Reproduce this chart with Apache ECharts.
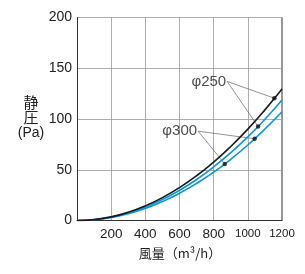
<!DOCTYPE html>
<html><head><meta charset="utf-8">
<script src="https://cdn.jsdelivr.net/npm/echarts@6/dist/echarts.min.js"></script>
<style>html,body{margin:0;padding:0;background:#fff}#c{width:305px;height:274px}</style>
</head><body><div id="c"></div>
<script>
var flows = [0,100,200,300,400,500,600,700,800,900,1000,1100,1200];
var blackCurve = [0,0.9,3.6,8.1,14.4,22.5,32.4,44.1,57.6,72.9,90.0,109.0,129.5];
var blueCurve1 = [0,0.8,3.3,7.4,13.2,20.6,29.7,40.4,52.8,66.8,82.4,99.7,118.7];
var blueCurve2 = [0,0.7,3.0,6.7,11.9,18.6,26.8,36.5,47.6,60.3,74.4,90.1,107.2];
var dotsX = [1155,1060,1040,865];
var dotsY = [120.5,92.5,80.5,55.7];
var label250 = 'φ250', label300 = 'φ300';
var label250Pos = [879,137];
var label250Ends = [[1155,120.5],[1060,92.5]];
var label300Pos = [709,88];
var label300Ends = [[1040,80.5],[865,55.7]];
var xTicks = [0,200,400,600,800,1000,1200];
var yTicks = [0,50,100,150,200];

function pairs(xs, ys){ return xs.map(function(x,i){return [x, ys[i]];}); }
var font = 'Liberation Sans, Arial, sans-serif';
var chart = echarts.init(document.getElementById('c'));
function leader(start, end){
  return {type:'line', data:[start, end], symbol:'none', silent:true,
    lineStyle:{color:'#666', width:0.7}, z:1};
}
chart.setOption({
  animation:false,
  grid:{left:77, top:17.5, width:205, height:203, show:false},
  xAxis:{type:'value', min:0, max:1200, interval:200,
    axisLine:{show:true, onZero:false, lineStyle:{color:'#333', width:1}},
    axisTick:{show:false},
    splitLine:{show:true, lineStyle:{color:'#999', width:0.8}},
    axisLabel:{color:'#222', fontFamily:font, fontSize:13.5, margin:7,
      formatter:function(v){ if(v===0) return ''; return v>=1000 ? '{s|'+v+'}' : ''+v; },
      rich:{s:{fontSize:11.5, fontFamily:font, color:'#222'}}}
  },
  yAxis:{type:'value', min:0, max:200, interval:50,
    axisLine:{show:true, lineStyle:{color:'#333', width:1}},
    axisTick:{show:false},
    splitLine:{show:true, lineStyle:{color:'#999', width:0.8}},
    axisLabel:{color:'#222', fontFamily:font, fontSize:14, margin:5}
  },
  graphic:[
    {type:'line', shape:{x1:282, y1:17.5, x2:282, y2:220.5}, style:{stroke:'#333', lineWidth:1}},
    {type:'text', style:{text:'静', font:'15px "Noto Sans CJK JP"', fill:'#222', textAlign:'center'}, position:[31,95]},
    {type:'text', style:{text:'圧', font:'15px "Noto Sans CJK JP"', fill:'#222', textAlign:'center'}, position:[31,110]},
    {type:'text', style:{text:'(Pa)', font:'14px Liberation Sans, Arial', fill:'#222', textAlign:'center'}, position:[31,126]},
    {type:'text', style:{text:'風量（m³/h）', font:'13px "Noto Sans CJK JP"', fill:'#222', textAlign:'center'}, position:[180,247]}
  ],
  series:[
    leader(label250Pos, label250Ends[0]),
    leader(label250Pos, label250Ends[1]),
    leader(label300Pos, label300Ends[0]),
    leader(label300Pos, label300Ends[1]),
    {type:'line', data:pairs(flows, blueCurve2), smooth:true, symbol:'none', lineStyle:{color:'#0a96dc', width:1.6}, z:3},
    {type:'line', data:pairs(flows, blueCurve1), smooth:true, symbol:'none', lineStyle:{color:'#0a96dc', width:1.6}, z:3},
    {type:'line', data:pairs(flows, blackCurve), smooth:true, symbol:'none', lineStyle:{color:'#1a1a1a', width:1.6}, z:4},
    {type:'scatter', data:pairs(dotsX, dotsY), symbolSize:4.5, itemStyle:{color:'#111'}, z:5},
    {type:'scatter', data:[label250Pos, label300Pos], symbolSize:0, z:6,
      label:{show:true, position:'left', distance:1, color:'#222', fontFamily:font, fontSize:15,
        formatter:function(p){ return p.dataIndex===0 ? label250 : label300; }}}
  ]
});
</script></body></html>
